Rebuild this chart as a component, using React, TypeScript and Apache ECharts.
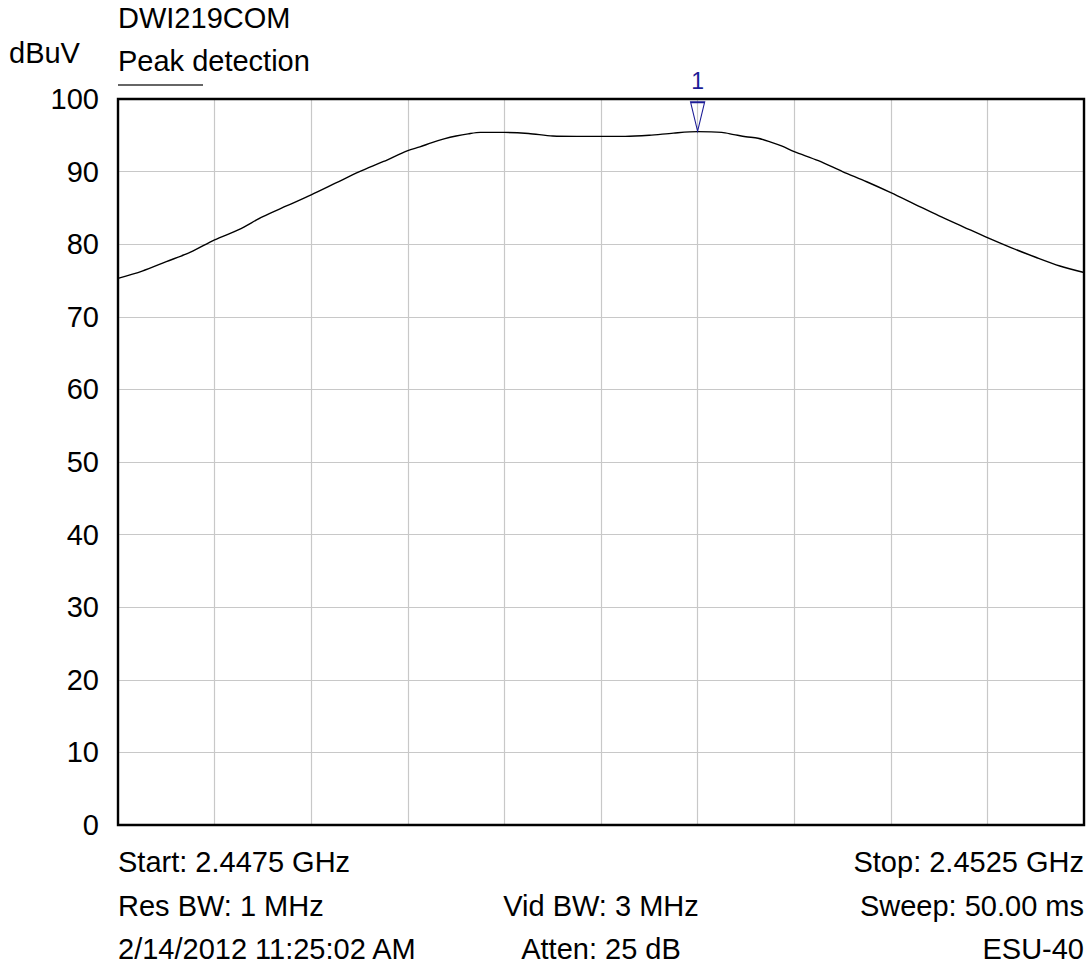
import React, { useEffect, useRef } from "react";
import * as echarts from "echarts";

// Frequency axis in MHz
const freqMHz = [
  2447.5, 2447.625, 2447.75, 2447.875, 2448.0, 2448.125, 2448.25, 2448.375,
  2448.5, 2448.625, 2448.75, 2448.875, 2449.0, 2449.0625, 2449.125, 2449.1875,
  2449.25, 2449.3125, 2449.375, 2449.5, 2449.625, 2449.75, 2449.875, 2450.0,
  2450.125, 2450.25, 2450.375, 2450.5, 2450.625, 2450.6875, 2450.75, 2450.8125,
  2450.875, 2450.9375, 2451.0, 2451.125, 2451.25, 2451.375, 2451.5, 2451.625,
  2451.75, 2451.875, 2452.0, 2452.125, 2452.25, 2452.375, 2452.5,
];
// Level in dBuV (peak detection)
const levelDBuV = [
  75.3, 76.3, 77.6, 78.9, 80.6, 82.0, 83.8, 85.3,
  86.8, 88.4, 90.0, 91.4, 92.9, 93.4, 94.0, 94.5,
  94.9, 95.2, 95.4, 95.4, 95.25, 94.9, 94.85, 94.85,
  94.85, 95.0, 95.3, 95.5, 95.4, 95.1, 94.8, 94.6,
  94.1, 93.5, 92.75, 91.5, 90.0, 88.6, 87.1, 85.5,
  83.9, 82.4, 80.9, 79.5, 78.2, 77.0, 76.1,
];
const yTicks = [0, 10, 20, 30, 40, 50, 60, 70, 80, 90, 100];
const markerFreq = 2450.5;
const markerLevel = 95.5;
const markerLabel = "1";

const titleText = "DWI219COM";
const unitText = "dBuV";
const legendText = "Peak detection";
const footerLeft = ["Start: 2.4475 GHz", "Res BW: 1 MHz", "2/14/2012 11:25:02 AM"];
const footerMid = ["", "Vid BW: 3 MHz", "Atten: 25 dB"];
const footerRight = ["Stop: 2.4525 GHz", "Sweep: 50.00 ms", "ESU-40"];

const FONT = '"Liberation Sans", Arial, Helvetica, sans-serif';

export default function App() {
  const ref = useRef<HTMLDivElement>(null);
  useEffect(() => {
    document.body.style.margin = "0";
    if (!ref.current) return;
    const chart = echarts.init(ref.current, null, { renderer: "svg" });
    const L = 118, T = 99, W = 966, H = 726;
    const rowsY = [862, 906, 949];
    const texts: any[] = [];
    const mk = (text: string, x: number, y: number, align: string, size = 29, fill = "#000") => ({
      type: "text",
      x,
      y,
      silent: true,
      style: { text, fill, fontSize: size, fontFamily: FONT, align, verticalAlign: "middle" },
    });
    texts.push(mk(titleText, L, 18, "left"));
    texts.push(mk(unitText, 9, 53, "left"));
    texts.push(mk(legendText, L, 61, "left"));
    footerLeft.forEach((t, i) => t && texts.push(mk(t, L, rowsY[i], "left")));
    footerMid.forEach((t, i) => t && texts.push(mk(t, L + W / 2, rowsY[i], "center")));
    footerRight.forEach((t, i) => t && texts.push(mk(t, L + W, rowsY[i], "right")));
    texts.push({
      type: "line",
      silent: true,
      shape: { x1: L, y1: 85, x2: 203, y2: 85 },
      style: { stroke: "#333", lineWidth: 1.5 },
    });

    chart.setOption({
      animation: false,
      backgroundColor: "#fff",
      textStyle: { fontFamily: FONT },
      grid: {
        left: L, top: T, width: W, height: H,
        show: true, borderColor: "#000", borderWidth: 2.4, backgroundColor: "transparent",
        z: 3,
      },
      xAxis: {
        type: "value",
        min: 2447.5,
        max: 2452.5,
        interval: 0.5,
        axisLine: { show: false },
        axisTick: { show: false },
        axisLabel: { show: false },
        splitLine: { show: true, lineStyle: { color: "#c8c8c8", width: 1.2 } },
      },
      yAxis: {
        type: "value",
        min: yTicks[0],
        max: yTicks[yTicks.length - 1],
        interval: 10,
        axisLine: { show: false },
        axisTick: { show: false },
        axisLabel: { show: true, color: "#000", fontSize: 29, fontFamily: FONT, margin: 19 },
        splitLine: { show: true, lineStyle: { color: "#c8c8c8", width: 1.2 } },
      },
      series: [
        {
          type: "line",
          data: freqMHz.map((f, i) => [f, levelDBuV[i]]),
          showSymbol: false,
          symbol: "none",
          smooth: 0.3,
          lineStyle: { color: "#000", width: 1.4 },
          z: 4,
          markPoint: {
            silent: true,
            symbol: "path://M0,0 L14,0 L7,29 Z",
            symbolSize: [14, 29],
            symbolOffset: [0, -15],
            symbolKeepAspect: false,
            itemStyle: { color: "transparent", borderColor: "#1c1c96", borderWidth: 1.4 },
            label: {
              show: true,
              position: "top",
              distance: 9,
              formatter: markerLabel,
              color: "#1c1c96",
              fontSize: 23,
              fontFamily: FONT,
            },
            data: [{ coord: [markerFreq, markerLevel] }],
          },
        },
      ],
      graphic: texts,
    });
    return () => chart.dispose();
  }, []);
  return <div ref={ref} style={{ width: 1086, height: 967 }} />;
}
